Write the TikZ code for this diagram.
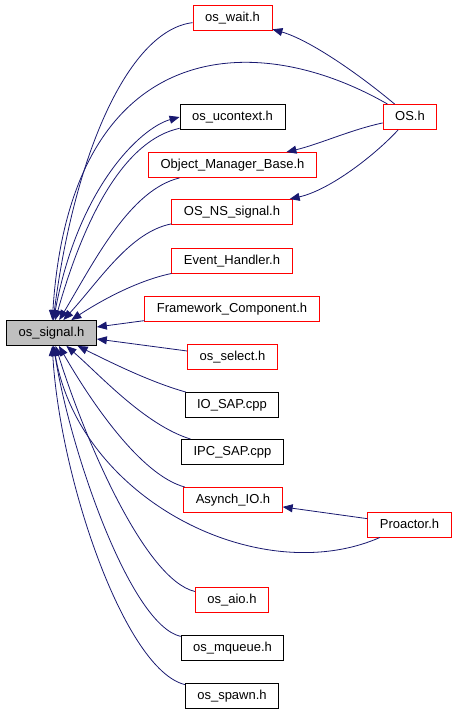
\documentclass[tikz,border=0pt]{standalone}
\usepackage{fontspec}
\setmainfont{Liberation Sans}
\usepackage{tikz}
\usetikzlibrary{positioning, arrows.meta}
\definecolor{edgeblue}{HTML}{191970}
\definecolor{curfill}{HTML}{BFBFBF}
\tikzset{% 
	>={Triangle[length=10pt, width=8pt]},
	every edge/.append style={draw=edgeblue, line width=0.8pt},
	file/.style = {name = #1, rectangle, draw, line width=0.9pt, inner xsep=12pt, inner ysep=6pt, text height=10pt, text depth=3pt, font=\fontsize{13}{15}\selectfont},
	hdr/.style = {file = #1, draw = red},
	src/.style = {file = #1, draw = black},
	cur/.style = {file = #1, draw = black, fill = curfill},
	via/.style 2 args = {to path = {.. controls #1 and #2 .. (\tikztotarget)}}
}
\begin{document}
\begin{tikzpicture}[x=1pt,y=1pt]
			\useasboundingbox (0,0) rectangle (456,-712);
			\node [cur = {sig}] at (51.5,-333) {os\_signal.h};
			\node [hdr = {wait}] at (232.5,-18) {os\_wait.h};
			\node [src = {ucontext}] at (232.5,-117) {os\_ucontext.h};
			\node [hdr = {omb}] at (232.5,-165) {Object\_Manager\_Base.h};
			\node [hdr = {nssig}] at (232,-212) {OS\_NS\_signal.h};
			\node [hdr = {evh}] at (232,-261) {Event\_Handler.h};
			\node [hdr = {fwc}] at (232,-309) {Framework\_Component.h};
			\node [hdr = {select}] at (232.5,-357) {os\_select.h};
			\node [src = {iosap}] at (232,-405) {IO\_SAP.cpp};
			\node [src = {ipcsap}] at (232.5,-452) {IPC\_SAP.cpp};
			\node [hdr = {asynch}] at (233,-500) {Asynch\_IO.h};
			\node [hdr = {aio}] at (232,-600) {os\_aio.h};
			\node [src = {mqueue}] at (232.5,-648) {os\_mqueue.h};
			\node [src = {spawn}] at (232,-696) {os\_spawn.h};
			\node [hdr = {os}] at (410,-117) {OS.h};
			\node [hdr = {proactor}] at (409.5,-524.5) {Proactor.h};
			\path [->] (wait) edge [via = {(130,-30)}{(75,-150)}] (sig);
			\path [->] (os) edge [via = {(360,-75)}{(310,-40)}] (wait);
			\path [->] (os) edge [via = {(250,-25)}{(70,-40)}] (sig);
			\path [->] (os) edge [via = {(350,-130)}{(320,-144)}] (omb);
			\path [->] (os) edge [via = {(375,-155)}{(330,-190)}] (nssig);
			\path [->] (sig) edge [via = {(75,-190)}{(140,-128)}] (ucontext.west);
			\path [->] (ucontext) edge [via = {(125,-140)}{(85,-215)}] (sig);
			\path [->] (omb) edge [via = {(130,-190)}{(95,-260)}] (sig);
			\path [->] (nssig) edge [via = {(130,-232)}{(100,-280)}] (sig);
			\path [->] (evh) edge [via = {(140,-280)}{(105,-298)}] (sig);
			\path [->] (fwc) edge (sig);
			\path [->] (select) edge (sig);
			\path [->] (iosap) edge [via = {(150,-382)}{(110,-362)}] (sig);
			\path [->] (ipcsap) edge [via = {(145,-425)}{(100,-375)}] (sig);
			\path [->] (asynch) edge [via = {(140,-475)}{(90,-400)}] (sig);
			\path [->] (proactor) edge (asynch);
			\path [->] (proactor) edge [via = {(260,-590)}{(80,-500)}] (sig);
			\path [->] (aio) edge [via = {(145,-580)}{(85,-440)}] (sig);
			\path [->] (mqueue) edge [via = {(130,-625)}{(70,-450)}] (sig);
			\path [->] (spawn) edge [via = {(125,-670)}{(60,-480)}] (sig);
\end{tikzpicture}
\end{document}
